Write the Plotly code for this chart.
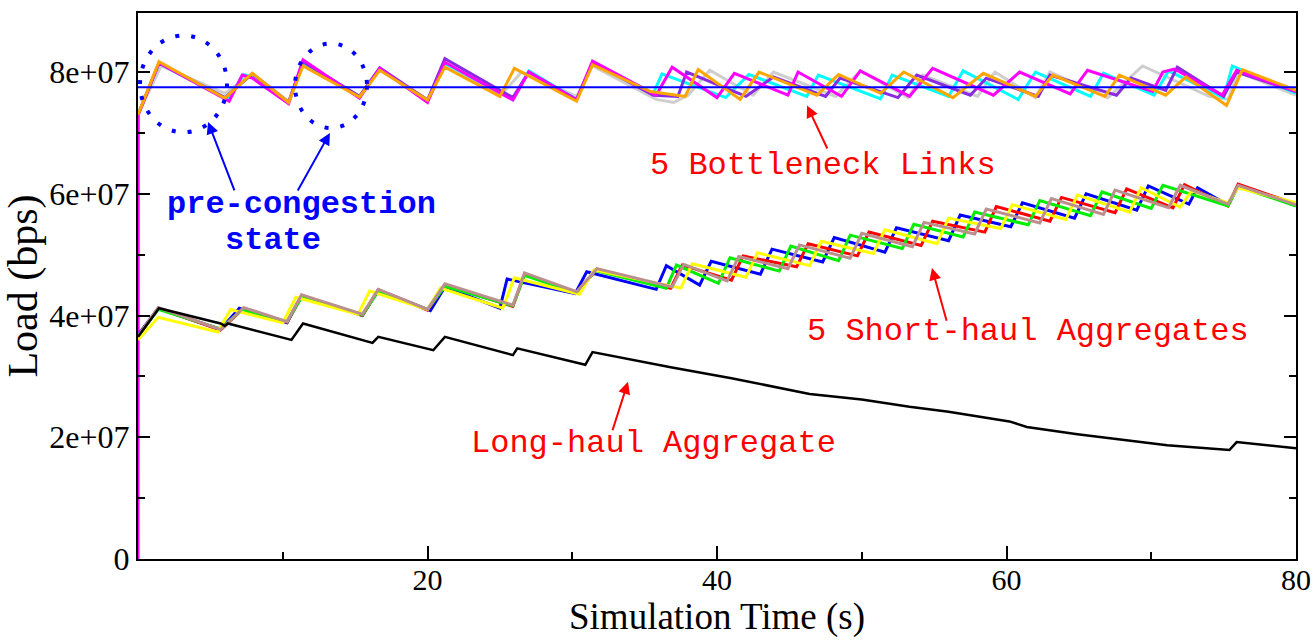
import plotly.graph_objects as go

# ---------------- data (loads in units of 1e7 bps) ----------------
capacity_e7 = 7.75

bn_orange_t = [0, 1.45, 6.0, 7.9, 10.4, 11.4, 15.3, 16.7, 20.0, 21.2, 25.0, 26.0, 30.3, 31.4, 35.4, 37.8, 38.7, 41.6, 42.9, 46.9, 48.4, 51.3, 52.9, 56.3, 58.4, 62.0, 63.2, 66.8, 67.8, 71.0, 72.4, 75.2, 76.3, 80]
bn_orange_v = [7.3, 8.17, 7.57, 7.98, 7.5, 8.1, 7.59, 8.03, 7.54, 8.08, 7.6, 8.06, 7.52, 8.12, 7.68, 7.6, 8.04, 7.55, 8.0, 7.62, 7.96, 7.65, 8.0, 7.58, 7.98, 7.6, 7.95, 7.6, 7.95, 7.62, 7.92, 7.45, 8.04, 7.7]

bn_magenta_t = [0, 0.02, 1.45, 6.3, 7.2, 7.9, 10.4, 11.4, 15.3, 16.7, 20.0, 21.2, 25.9, 27.0, 30.3, 31.4, 35.8, 36.9, 40.0, 41.2, 44.9, 45.6, 48.6, 49.9, 53.3, 54.9, 59.1, 60.9, 64.4, 65.6, 70.1, 70.8, 71.6, 74.9, 75.9, 80]
bn_magenta_v = [0, 7.3, 8.15, 7.52, 7.95, 7.9, 7.48, 8.2, 7.57, 8.06, 7.5, 8.16, 7.54, 8.0, 7.54, 8.18, 7.62, 8.08, 7.58, 7.98, 7.62, 8.0, 7.6, 8.02, 7.6, 8.06, 7.62, 8.0, 7.64, 8.03, 7.68, 8.0, 8.05, 7.62, 8.03, 7.68]

bn_cyan_t = [0, 1.45, 6.2, 7.3, 7.9, 10.4, 11.4, 15.3, 16.7, 20.0, 21.2, 25.9, 27.0, 30.3, 31.4, 35.6, 36.2, 40.6, 42.2, 46.2, 47.0, 51.3, 52.1, 56.0, 57.0, 60.8, 62.0, 65.8, 66.7, 70.2, 71.2, 75.0, 75.6, 80]
bn_cyan_v = [7.3, 8.14, 7.55, 7.96, 7.92, 7.5, 8.14, 7.6, 8.05, 7.52, 8.14, 7.55, 8.02, 7.55, 8.15, 7.65, 7.97, 7.58, 7.96, 7.6, 7.95, 7.56, 7.95, 7.6, 8.02, 7.55, 8.0, 7.6, 7.98, 7.62, 8.02, 7.58, 8.1, 7.65]

bn_purple_t = [0, 1.45, 6.0, 7.9, 10.4, 11.4, 15.3, 16.7, 20.0, 21.2, 25.9, 27.0, 30.3, 31.4, 35.6, 37.3, 37.9, 42.0, 43.9, 47.5, 48.5, 52.5, 53.8, 57.5, 58.6, 62.2, 63.0, 67.6, 68.6, 71.0, 71.8, 75.0, 75.9, 80]
bn_purple_v = [7.3, 8.15, 7.58, 7.97, 7.5, 8.17, 7.6, 8.07, 7.54, 8.22, 7.58, 8.0, 7.55, 8.16, 7.62, 7.6, 8.0, 7.6, 7.92, 7.6, 7.9, 7.58, 7.95, 7.62, 7.9, 7.6, 7.95, 7.62, 7.9, 7.7, 8.08, 7.6, 8.0, 7.68]

bn_gray_t = [0, 1.6, 6.0, 7.9, 10.4, 11.4, 15.3, 16.7, 20.0, 21.2, 25.0, 26.5, 30.3, 31.4, 35.8, 37.0, 38.0, 39.5, 42.5, 43.9, 48.2, 49.9, 53.2, 54.2, 58.0, 59.2, 62.0, 63.0, 67.0, 69.4, 74.0, 75.3, 76.0, 80]
bn_gray_v = [7.3, 8.1, 7.65, 7.98, 7.52, 8.12, 7.6, 8.04, 7.55, 8.12, 7.6, 8.0, 7.6, 8.1, 7.55, 7.5, 7.62, 8.03, 7.62, 8.0, 7.6, 8.02, 7.58, 7.95, 7.6, 8.0, 7.58, 8.0, 7.58, 8.1, 7.6, 7.55, 8.0, 7.62]

sh_blue_t = [0, 1.4, 5.7, 7.0, 10.3, 11.3, 15.5, 16.6, 20.2, 21.2, 25.0, 25.5, 30.2, 31.0, 35.8, 36.5, 38.8, 39.6, 43.0, 43.8, 47.3, 48.1, 51.6, 52.4, 56.0, 56.8, 60.3, 61.1, 64.7, 65.5, 69.0, 69.8, 72.6, 73.2, 75.3, 76.0, 80]
sh_blue_v = [3.68, 4.12, 3.77, 4.12, 3.88, 4.32, 4.0, 4.42, 4.08, 4.47, 4.12, 4.6, 4.36, 4.72, 4.43, 4.82, 4.5, 4.89, 4.68, 5.09, 4.88, 5.28, 5.04, 5.44, 5.23, 5.65, 5.46, 5.85, 5.6, 6.0, 5.73, 6.13, 5.83, 6.1, 5.82, 6.12, 5.82]

sh_red_t = [0, 1.4, 5.7, 7.3, 10.3, 11.3, 15.5, 16.6, 20.0, 21.2, 25.9, 26.7, 30.3, 31.7, 36.8, 37.6, 41.0, 41.8, 45.5, 46.3, 49.7, 50.5, 54.1, 54.9, 58.5, 59.3, 63.0, 63.8, 67.5, 68.3, 71.5, 72.3, 75.3, 76.0, 80]
sh_red_v = [3.65, 4.12, 3.76, 4.12, 3.89, 4.33, 4.0, 4.42, 4.09, 4.5, 4.15, 4.68, 4.38, 4.76, 4.45, 4.83, 4.58, 4.98, 4.8, 5.18, 4.98, 5.37, 5.15, 5.55, 5.37, 5.79, 5.55, 5.94, 5.69, 6.08, 5.77, 6.15, 5.8, 6.16, 5.83]

sh_green_t = [0, 1.4, 5.7, 7.2, 10.3, 11.3, 15.5, 16.6, 20.0, 21.2, 25.9, 26.7, 30.3, 31.6, 36.5, 37.2, 40.1, 40.9, 44.3, 45.1, 48.4, 49.2, 52.8, 53.6, 57.0, 57.8, 61.5, 62.3, 65.8, 66.6, 70.0, 70.8, 75.3, 76.0, 80]
sh_green_v = [3.66, 4.1, 3.78, 4.1, 3.9, 4.3, 4.01, 4.4, 4.1, 4.48, 4.16, 4.66, 4.37, 4.74, 4.45, 4.83, 4.53, 4.95, 4.73, 5.14, 4.9, 5.32, 5.1, 5.5, 5.29, 5.7, 5.49, 5.89, 5.64, 6.03, 5.76, 6.14, 5.8, 6.12, 5.8]

sh_yellow_t = [0, 1.4, 5.5, 6.4, 10.0, 10.9, 15.2, 16.0, 20.0, 20.9, 25.2, 26.0, 30.5, 31.5, 37.5, 38.3, 42.0, 42.8, 46.4, 47.2, 50.8, 51.6, 55.2, 56.0, 59.6, 60.4, 64.1, 64.9, 68.5, 69.3, 72.0, 72.8, 75.3, 76.0, 80]
sh_yellow_v = [3.6, 3.97, 3.73, 4.1, 3.88, 4.3, 4.02, 4.4, 4.1, 4.45, 4.12, 4.62, 4.35, 4.75, 4.45, 4.85, 4.63, 5.03, 4.82, 5.22, 5.02, 5.41, 5.18, 5.6, 5.43, 5.82, 5.58, 5.98, 5.7, 6.1, 5.78, 6.05, 5.85, 6.1, 5.85]

sh_brown_t = [0, 1.4, 5.7, 7.3, 10.3, 11.3, 15.5, 16.6, 20.0, 21.2, 25.9, 26.7, 30.3, 31.7, 36.9, 37.7, 40.7, 41.5, 44.9, 45.7, 49.2, 50.0, 53.5, 54.3, 57.8, 58.6, 62.3, 63.1, 66.7, 67.5, 71.2, 72.0, 75.3, 76.0, 80]
sh_brown_v = [3.66, 4.13, 3.77, 4.13, 3.9, 4.34, 4.02, 4.43, 4.1, 4.52, 4.17, 4.7, 4.39, 4.77, 4.47, 4.84, 4.57, 4.97, 4.77, 5.16, 4.94, 5.35, 5.13, 5.53, 5.34, 5.75, 5.52, 5.92, 5.66, 6.06, 5.77, 6.14, 5.83, 6.14, 5.82]

lh_t = [0, 1.45, 5.7, 6.0, 6.2, 10.6, 11.4, 16.2, 16.6, 20.4, 21.2, 25.9, 26.2, 30.9, 31.4, 36.8, 41.0, 46.4, 50.0, 53.3, 56.0, 60.2, 61.4, 64.9, 71.1, 75.4, 75.9, 80]
lh_v = [3.65, 4.12, 3.87, 3.83, 3.87, 3.6, 3.87, 3.55, 3.65, 3.43, 3.65, 3.35, 3.46, 3.19, 3.4, 3.15, 2.97, 2.71, 2.62, 2.5, 2.42, 2.26, 2.17, 2.05, 1.87, 1.79, 1.92, 1.82]

x_ticks = [20, 40, 60, 80]
y_tickvals_e7 = [0, 2, 4, 6, 8]
y_ticktext = ["0", "2e+07", "4e+07", "6e+07", "8e+07"]

SCALE = 1e7


def sc(v):
    return [a * SCALE for a in v]


fig = go.Figure()

bottleneck = [
    (bn_gray_t, bn_gray_v, "rgba(190,190,190,0.75)"),
    (bn_cyan_t, bn_cyan_v, "#00ffff"),
    (bn_purple_t, bn_purple_v, "#8a2be2"),
    (bn_magenta_t, bn_magenta_v, "#ff00ff"),
    (bn_orange_t, bn_orange_v, "#ffa500"),
]
for t, v, c in bottleneck:
    fig.add_trace(go.Scatter(x=t, y=sc(v), mode="lines",
                             line=dict(color=c, width=3), showlegend=False))

fig.add_trace(go.Scatter(x=[0, 80], y=sc([capacity_e7, capacity_e7]), mode="lines",
                         line=dict(color="#0000ff", width=2), showlegend=False))

shorthaul = [
    (sh_blue_t, sh_blue_v, "#0000ff"),
    (sh_red_t, sh_red_v, "#ff0000"),
    (sh_green_t, sh_green_v, "#00ee00"),
    (sh_yellow_t, sh_yellow_v, "#ffff00"),
    (sh_brown_t, sh_brown_v, "#bc8f8f"),
]
for t, v, c in shorthaul:
    fig.add_trace(go.Scatter(x=t, y=sc(v), mode="lines",
                             line=dict(color=c, width=3), showlegend=False))

fig.add_trace(go.Scatter(x=lh_t, y=sc(lh_v), mode="lines",
                         line=dict(color="#000000", width=2.5), showlegend=False))

mono = "Liberation Mono, Courier New, monospace"
serif = "Liberation Serif, Times New Roman, serif"

ann = []
labels = [
    ("5 Bottleneck Links", 47.3, 6.47, "#ff0000"),
    ("5 Short-haul Aggregates", 61.5, 3.73, "#ff0000"),
    ("Long-haul Aggregate", 35.6, 1.90, "#ff0000"),
    ("<b>pre-congestion</b>", 11.3, 5.83, "#0000ff"),
    ("<b>state</b>", 9.3, 5.24, "#0000ff"),
]
for txt, x, y, c in labels:
    ann.append(dict(text=txt, x=x, y=y * SCALE, xref="x", yref="y", showarrow=False,
                    font=dict(family=mono, size=32, color=c), xanchor="center", yanchor="middle"))

arrows = [
    (6.7, 6.03, 4.84, 7.18, "#0000ff"),
    (10.98, 6.03, 13.26, 7.0, "#0000ff"),
    (47.67, 6.72, 46.22, 7.45, "#ff0000"),
    (55.89, 3.89, 54.85, 4.78, "#ff0000"),
    (32.75, 2.09, 33.85, 2.91, "#ff0000"),
]
for ax, ay, x, y, c in arrows:
    ann.append(dict(text="", x=x, y=y * SCALE, ax=ax, ay=ay * SCALE, xref="x", yref="y",
                    axref="x", ayref="y", showarrow=True, arrowhead=2, arrowsize=1.2,
                    arrowwidth=2, arrowcolor=c, standoff=0, startstandoff=0))

# x-axis title (paper annotation, bottom-anchored just inside the canvas)
ann.append(dict(text="Simulation Time (s)", x=0.5, y=-0.1465, xref="paper", yref="paper",
                xanchor="center", yanchor="bottom", showarrow=False, borderpad=0,
                font=dict(family=serif, size=37, color="black")))

shapes = [
    dict(type="circle", xref="x", yref="y", x0=0.14, x1=6.15, y0=7.01 * SCALE, y1=8.6 * SCALE,
         line=dict(color="#0000ff", width=4, dash="4px,12px")),
    dict(type="circle", xref="x", yref="y", x0=10.85, x1=15.82, y0=7.08 * SCALE, y1=8.47 * SCALE,
         line=dict(color="#0000ff", width=4, dash="4px,12px")),
]

fig.update_layout(
    width=1316, height=640,
    margin=dict(l=138, r=20, t=13, b=81, autoexpand=False),
    paper_bgcolor="white", plot_bgcolor="white",
    annotations=ann, shapes=shapes,
    xaxis=dict(range=[0, 80], tickvals=x_ticks, ticks="inside", ticklen=13, tickwidth=2,
               tickcolor="black", showline=True, linecolor="black", linewidth=2, mirror=True,
               showgrid=False, zeroline=False, automargin=False, ticklabelstandoff=-7,
               tickfont=dict(family=serif, size=30, color="black"),
               minor=dict(dtick=10, ticks="inside", ticklen=7, tickwidth=2, tickcolor="black", showgrid=False)),
    yaxis=dict(range=[0, 8.97 * SCALE], tickvals=sc(y_tickvals_e7), ticktext=y_ticktext,
               ticks="inside", ticklen=12, tickwidth=2, tickcolor="black",
               showline=True, linecolor="black", linewidth=2, mirror="ticks",
               showgrid=False, zeroline=False, automargin=False,
               tickfont=dict(family=serif, size=32, color="black"),
               minor=dict(dtick=SCALE, ticks="inside", ticklen=7, tickwidth=2, tickcolor="black", showgrid=False),
               title=dict(text="Load (bps)", font=dict(family=serif, size=42, color="black"), standoff=4)),
)

fig.write_html("out.html")
